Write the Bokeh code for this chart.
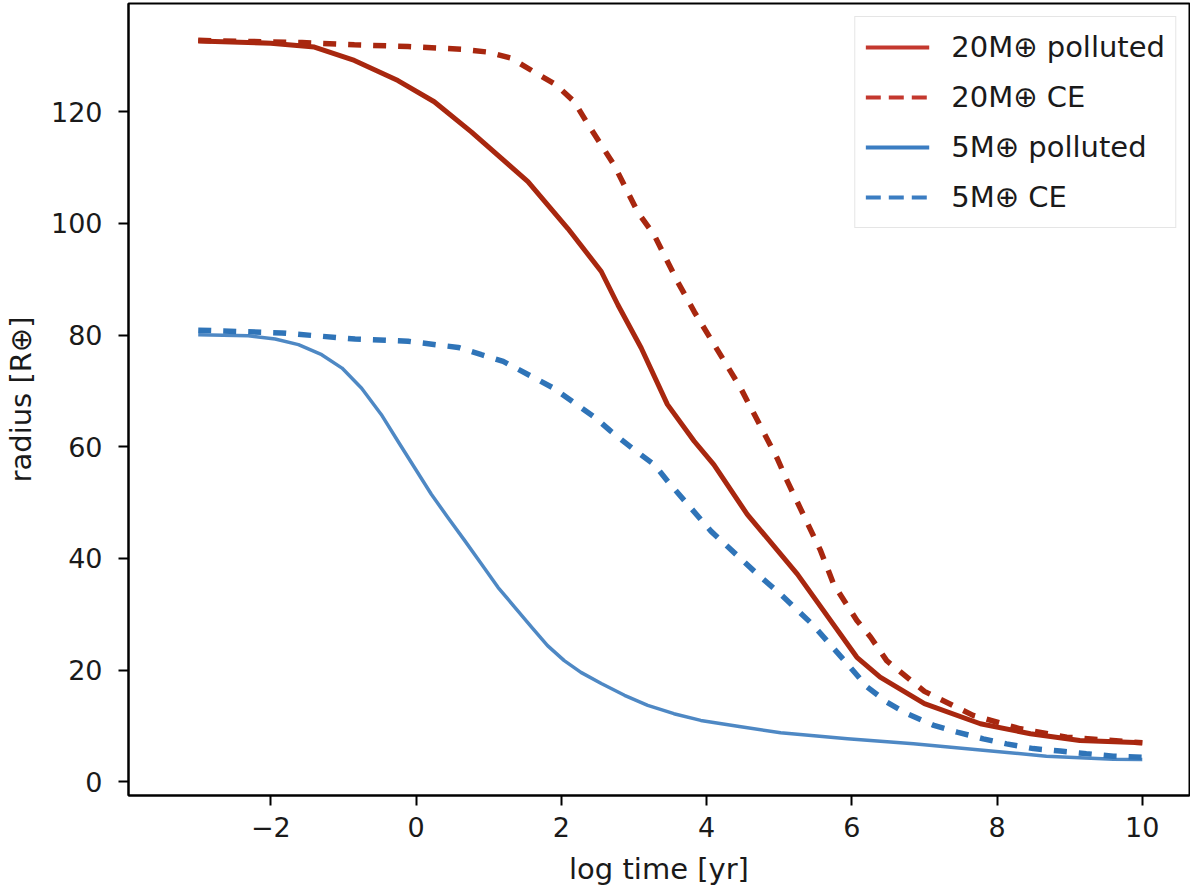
from bokeh.plotting import figure
from bokeh.models import Range1d, Legend, LegendItem, FixedTicker
from bokeh.embed import file_html
from bokeh.resources import INLINE

# ---- data ----
x_20_polluted = [-3.0, -2.0, -1.4, -0.85, -0.25, 0.25, 0.76, 1.54, 2.09, 2.55, 2.78, 3.10,
                 3.46, 3.83, 4.10, 4.56, 5.25, 6.07, 6.39, 7.0, 7.77, 8.46, 9.14, 10.0]
r_20_polluted = [132.7, 132.3, 131.6, 129.2, 125.6, 121.8, 116.4, 107.5, 99.1, 91.4, 85.4, 77.7,
                 67.6, 61.0, 56.8, 47.9, 37.2, 22.3, 18.75, 14.0, 10.4, 8.6, 7.4, 7.0]

x_20_ce = [-3.0, -1.57, -0.85, -0.11, 0.62, 0.99, 1.31, 1.63, 1.91, 2.18, 2.36, 2.73, 3.05,
           3.28, 3.60, 3.83, 4.33, 4.47, 4.97, 5.11, 5.57, 5.75, 6.07, 6.26, 6.48, 7.0,
           7.67, 8.32, 8.96, 10.0]
r_20_ce = [132.8, 132.4, 132.0, 131.7, 131.2, 130.7, 129.6, 127.1, 125.0, 121.8, 117.9, 110.4, 102.1,
           97.9, 89.6, 84.2, 73.5, 70.5, 58.0, 53.9, 41.4, 35.4, 28.9, 25.9, 21.7, 16.2,
           11.9, 9.5, 8.0, 7.0]

x_5_polluted = [-3.0, -2.31, -1.94, -1.62, -1.30, -1.02, -0.75, -0.48, -0.25, -0.02, 0.21,
                0.44, 0.67, 0.90, 1.13, 1.36, 1.59, 1.81, 2.04, 2.27, 2.55, 2.87, 3.19,
                3.55, 3.92, 4.45, 5.02, 5.94, 6.85, 7.77, 8.68, 9.6, 10.0]
r_5_polluted = [80.05, 79.9, 79.3, 78.3, 76.5, 74.1, 70.5, 65.8, 61.0, 56.25, 51.5,
                47.3, 43.2, 39.0, 34.8, 31.25, 27.7, 24.4, 21.7, 19.6, 17.6, 15.5, 13.7,
                12.2, 11.0, 9.9, 8.8, 7.7, 6.8, 5.7, 4.6, 4.05, 4.0]

x_5_ce = [-3.0, -1.85, -0.84, -0.11, 0.58, 0.90, 1.20, 1.88, 2.47, 2.68, 3.0, 3.28, 3.48,
          4.06, 4.70, 5.02, 5.45, 5.98, 6.21, 6.48, 6.76, 7.13, 7.45, 7.81, 8.13, 8.50,
          8.87, 9.23, 9.6, 10.0]
r_5_ce = [80.9, 80.4, 79.3, 78.9, 77.8, 76.5, 75.3, 70.6, 65.2, 62.8, 59.5, 56.8, 53.6,
          44.9, 37.2, 33.6, 28.3, 20.5, 17.0, 14.3, 12.2, 10.1, 8.9, 7.7, 6.8, 5.95,
          5.5, 5.05, 4.6, 4.4]

legend_labels = ["20M\u2295 polluted", "20M\u2295 CE", "5M\u2295 polluted", "5M\u2295 CE"]
x_ticks = [-2, 0, 2, 4, 6, 8, 10]
y_ticks = [0, 20, 40, 60, 80, 100, 120]

FONT = "DejaVu Sans"
RED = "#A8270F"
BLUE = "#2F74B8"
BLUE_SOLID = "#3B7BBE"
RED_LEG = "#C4382E"
BLUE_LEG = "#3B7DC2"
NAN = float("nan")

p = figure(width=1190, height=888, output_backend="svg", toolbar_location=None,
           x_range=Range1d(-3.96, 10.65), y_range=Range1d(-2.45, 139.4),
           min_border_left=125, min_border_right=1, min_border_top=3, min_border_bottom=91)

p.background_fill_color = "white"
p.border_fill_color = "white"
p.xgrid.visible = False
p.ygrid.visible = False
p.outline_line_color = "black"
p.outline_line_width = 2

for ax in (p.xaxis[0], p.yaxis[0]):
    ax.axis_line_color = "black"
    ax.axis_line_width = 2
    ax.major_tick_out = 10
    ax.major_tick_in = 0
    ax.major_tick_line_width = 2
    ax.major_tick_line_color = "black"
    ax.minor_tick_line_color = None
    ax.major_label_text_font = FONT
    ax.major_label_text_font_size = "27px"
    ax.major_label_text_color = "#1a1a1a"
    ax.axis_label_text_font = FONT
    ax.axis_label_text_font_size = "29px"
    ax.axis_label_text_font_style = "normal"
    ax.axis_label_text_color = "#1a1a1a"

p.xaxis[0].ticker = FixedTicker(ticks=x_ticks)
p.yaxis[0].ticker = FixedTicker(ticks=y_ticks)
p.xaxis[0].axis_label = "log time [yr]"
p.yaxis[0].axis_label = "radius [R\u2295]"
p.xaxis[0].major_label_standoff = 11
p.yaxis[0].major_label_standoff = 16
p.xaxis[0].axis_label_standoff = 12
p.yaxis[0].axis_label_standoff = 10

# ---- data lines ----
p.line(x_20_polluted, r_20_polluted, line_color=RED, line_width=5, line_join="round")
p.line(x_20_ce, r_20_ce, line_color=RED, line_width=5.5, line_dash="13 12")
p.line(x_5_polluted, r_5_polluted, line_color=BLUE_SOLID, line_width=3.5, line_alpha=0.9,
       line_join="round")
p.line(x_5_ce, r_5_ce, line_color=BLUE, line_width=5.5, line_dash="13 12")

# ---- legend keys (nothing drawn in the plot area; styled like the reference legend) ----
k1 = p.line(x=[NAN], y=[NAN], line_color=RED_LEG, line_width=4)
k2 = p.line(x=[NAN], y=[NAN], line_color=RED_LEG, line_width=4, line_dash="15 8")
k3 = p.line(x=[NAN], y=[NAN], line_color=BLUE_LEG, line_width=4)
k4 = p.line(x=[NAN], y=[NAN], line_color=BLUE_LEG, line_width=4, line_dash="15 8")

legend = Legend(items=[LegendItem(label=legend_labels[0], renderers=[k1]),
                       LegendItem(label=legend_labels[1], renderers=[k2]),
                       LegendItem(label=legend_labels[2], renderers=[k3]),
                       LegendItem(label=legend_labels[3], renderers=[k4])],
                location="top_right", margin=13, padding=10, spacing=10,
                glyph_width=64, glyph_height=40, label_height=40, label_standoff=22,
                label_text_font=FONT, label_text_font_size="29px", label_text_color="#1a1a1a",
                border_line_color="#cccccc", border_line_width=1.5,
                background_fill_color="white", background_fill_alpha=0.8)
p.add_layout(legend)

open("out.html", "w").write(file_html(p, INLINE))
